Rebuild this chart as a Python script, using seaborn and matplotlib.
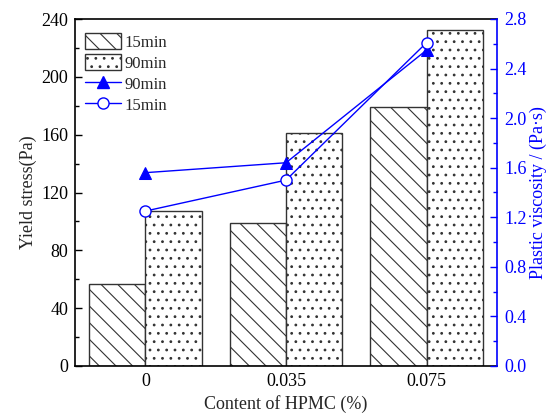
import numpy as np
import pandas as pd
import matplotlib
matplotlib.use("Agg")
import matplotlib.pyplot as plt
from matplotlib.ticker import MultipleLocator, FixedLocator, FormatStrFormatter
from matplotlib.patches import Patch
from matplotlib.lines import Line2D
import seaborn as sns

# HPMC content levels and measured rheology
hpmc_content = ["0", "0.035", "0.075"]
times = ["15min", "90min"]
yield_15min = [56.5, 98.7, 179.0]
yield_90min = [107.3, 161.3, 232.4]
visc_90min = [1.56, 1.64, 2.55]
visc_15min = [1.25, 1.50, 2.61]

sns.set_theme(style="white")
plt.rcParams["font.family"] = ["Liberation Serif", "DejaVu Serif"]
plt.rcParams["hatch.linewidth"] = 0.8

blue = "#0000ff"
edge = "#333333"

df = pd.DataFrame({
    "HPMC": hpmc_content * 2,
    "time": [times[0]] * 3 + [times[1]] * 3,
    "yield": yield_15min + yield_90min,
})

fig = plt.figure(figsize=(5.49, 4.16), dpi=100)
ax = fig.add_axes([75 / 549, 50 / 416, 422 / 549, 347 / 416])

sns.barplot(data=df, x="HPMC", y="yield", hue="time", order=hpmc_content,
            hue_order=times, palette=["white", "white"], edgecolor=edge,
            linewidth=1.0, width=0.8, legend=False, ax=ax)

hatches = {0: "\\\\", 1: ".."}
for i, bar in enumerate(ax.patches[:6]):
    bar.set_hatch(hatches[i // 3])
    bar.set_edgecolor(edge)

ax.set_xlim(-0.5, 2.5)
ax.set_ylim(0, 240)
ax.yaxis.set_major_locator(MultipleLocator(40))
ax.yaxis.set_minor_locator(MultipleLocator(20))
ax.xaxis.set_minor_locator(FixedLocator([0.5, 1.5]))
ax.tick_params(axis="both", which="both", direction="in", labelsize=13,
               colors="black", width=1.0)
ax.tick_params(axis="both", which="major", length=5, pad=5)
ax.tick_params(axis="both", which="minor", length=3)
ax.tick_params(axis="x", which="both", top=False)
ax.set_xlabel("Content of HPMC (%)", fontsize=13, labelpad=4)
ax.set_ylabel("Yield stress(Pa)", fontsize=13, labelpad=3)
for side in ["left", "bottom", "top"]:
    ax.spines[side].set_color("black")
    ax.spines[side].set_linewidth(1.2)
ax.spines["right"].set_visible(False)

ax2 = ax.twinx()
xpos = np.arange(len(hpmc_content))
sns.lineplot(x=xpos, y=visc_90min, color=blue, marker="^", markersize=9,
             markeredgecolor=blue, markerfacecolor=blue, linewidth=1.0, ax=ax2)
sns.lineplot(x=xpos, y=visc_15min, color=blue, marker="o", markersize=8,
             markeredgecolor=blue, markerfacecolor="white", markeredgewidth=1.0,
             linewidth=1.0, ax=ax2)
ax2.set_ylim(0, 2.8)
ax2.yaxis.set_major_locator(MultipleLocator(0.4))
ax2.yaxis.set_minor_locator(MultipleLocator(0.2))
ax2.yaxis.set_major_formatter(FormatStrFormatter("%.1f"))
ax2.tick_params(axis="y", which="both", direction="in", colors=blue,
                labelsize=13, width=1.0)
ax2.tick_params(axis="y", which="major", length=5, pad=5)
ax2.tick_params(axis="y", which="minor", length=3)
ax2.set_ylabel("Plastic viscosity / (Pa·s)", color=blue, fontsize=13, labelpad=2)
for side in ["left", "bottom", "top"]:
    ax2.spines[side].set_visible(False)
ax2.spines["right"].set_color(blue)
ax2.spines["right"].set_linewidth(1.2)

handles = [
    Patch(facecolor="white", edgecolor=edge, hatch=hatches[0], label="15min"),
    Patch(facecolor="white", edgecolor=edge, hatch=hatches[1], label="90min"),
    Line2D([], [], color=blue, marker="^", markersize=9, linewidth=1.0, label="90min"),
    Line2D([], [], color=blue, marker="o", markersize=8, markerfacecolor="white",
           linewidth=1.0, label="15min"),
]
ax2.legend(handles=handles, loc="upper left", bbox_to_anchor=(-0.005, 0.992),
           frameon=False, fontsize=12, handlelength=2.2, handleheight=1.1,
           labelspacing=0.2, handletextpad=0.2, borderaxespad=0.3)

fig.savefig("out.png", dpi=100)
